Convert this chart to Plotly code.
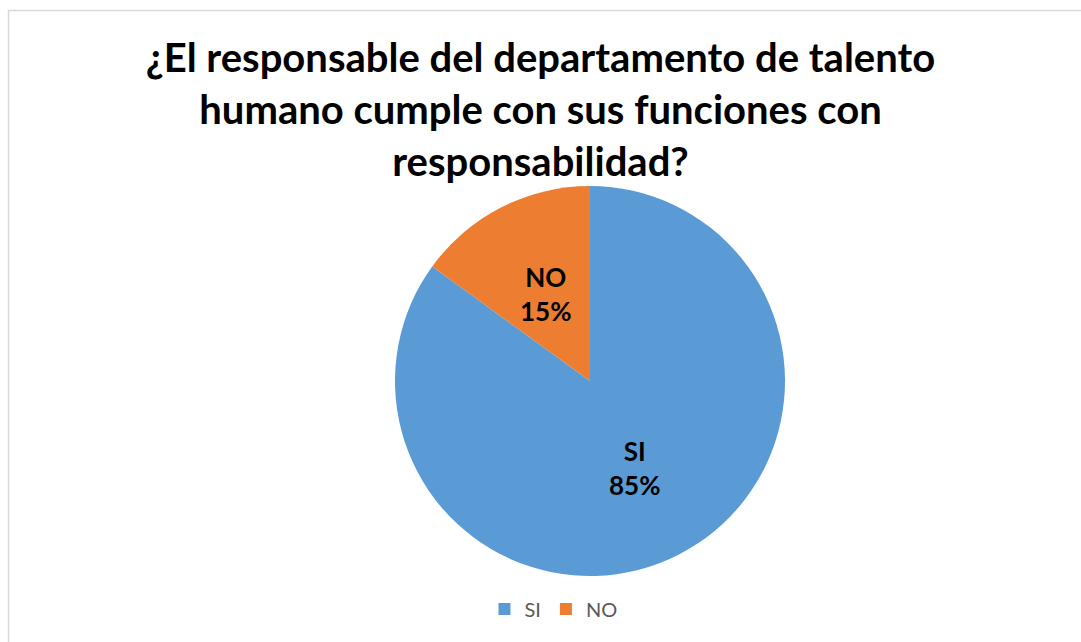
import math
import plotly.graph_objects as go

labels = ["SI", "NO"]
values = [85, 15]
colors = ["#5B9BD5", "#ED7D31"]
title_lines = ["¿El responsable del departamento de talento",
               "humano cumple con sus funciones con",
               "responsabilidad?"]

W, H = 1081, 642
FONT = "Lato"

# pie placement (pixels)
CX, CY, R = 590, 381, 195

fig = go.Figure(go.Pie(
    labels=labels, values=values, sort=False, direction="clockwise", rotation=0,
    marker=dict(colors=colors, line=dict(width=0)),
    textinfo="none",
    domain=dict(x=[(CX-R)/W, (CX+R)/W], y=[1-(CY+R)/H, 1-(CY-R)/H]),
    hoverinfo="label+percent",
))

# data labels: placed at mid-angle of each slice, half radius
total = sum(values)
annotations = []
cum = 0
for lab, v in zip(labels, values):
    mid = (cum + v/2) / total * 2*math.pi
    cum += v
    px = CX + 0.5*R*math.sin(mid)
    py = CY - 0.5*R*math.cos(mid)
    annotations.append(dict(
        x=px/W, y=1-py/H, xref="paper", yref="paper", showarrow=False,
        text=f"<b>{lab}<br>{round(v/total*100)}%</b>",
        font=dict(family=FONT, size=26, color="#000000"),
        xanchor="center", yanchor="middle"))

fig.update_layout(
    width=W, height=H, margin=dict(l=0, r=0, t=0, b=0),
    paper_bgcolor="white", plot_bgcolor="white",
    title=dict(text="<b>" + "<br>".join(title_lines) + "</b>",
               x=0.5, xanchor="center", y=1-72/H, yanchor="top",
               font=dict(family=FONT, size=40, color="#000000")),
    legend=dict(orientation="h", x=0.512, xanchor="center", y=1-609/H, yanchor="middle",
                font=dict(family=FONT, size=20, color="#595959"),
                itemwidth=30, traceorder="normal"),
    annotations=annotations,
    shapes=[dict(type="rect", xref="paper", yref="paper",
                 x0=8.5/W, x1=1.01, y0=-0.01, y1=1-10.5/H,
                 line=dict(color="#D9D9D9", width=1.5), fillcolor="rgba(0,0,0,0)")],
)

fig.write_html("out.html")
